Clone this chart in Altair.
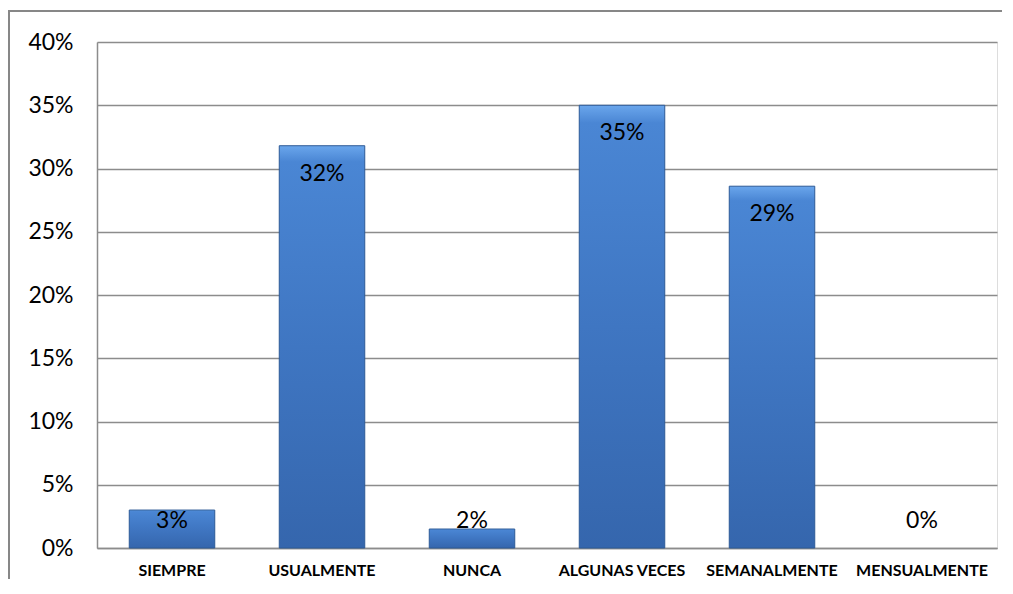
import altair as alt
import pandas as pd

categories = ["SIEMPRE", "USUALMENTE", "NUNCA", "ALGUNAS VECES", "SEMANALMENTE", "MENSUALMENTE"]
values = [0.030, 0.318, 0.015, 0.350, 0.286, 0.0]
labels = ["3%", "32%", "2%", "35%", "29%", "0%"]

df = pd.DataFrame({"cat": categories, "val": values, "lab": labels})

FONT = "Lato"

x = alt.X("cat:N", sort=categories, title=None,
          scale=alt.Scale(paddingInner=0.43, paddingOuter=0.215),
          axis=alt.Axis(labelAngle=0, labelFontWeight="bold", labelFontSize=16,
                        labelFont=FONT, labelColor="#000000", labelPadding=14,
                        ticks=False, domainColor="#8c8c8c", domainWidth=1.5))
y = alt.Y("val:Q", title=None,
          scale=alt.Scale(domain=[0, 0.4]),
          axis=alt.Axis(format=".0%", values=[0, 0.05, 0.1, 0.15, 0.2, 0.25, 0.3, 0.35, 0.4],
                        labelFontSize=23, labelFont=FONT, labelColor="#000000",
                        labelPadding=24, ticks=False, grid=True, gridColor="#8c8c8c",
                        gridWidth=1.3, domainColor="#8c8c8c", domainWidth=1.5))

gradient = alt.Gradient(
    gradient="linear", x1=0, y1=0, x2=0, y2=1,
    stops=[alt.GradientStop(color="#6aa6ec", offset=0),
           alt.GradientStop(color="#4a86d4", offset=0.04),
           alt.GradientStop(color="#3f76c2", offset=0.5),
           alt.GradientStop(color="#3566ad", offset=1)])

bars = alt.Chart(df).transform_filter("datum.val > 0").mark_bar(
    color=gradient, stroke="#2d5a96", strokeWidth=1).encode(x=x, y=y)

text = alt.Chart(df).transform_calculate(
    ly="max(datum.val - 0.022, 0.0213)"
).mark_text(fontSize=23, font=FONT, color="#000000", baseline="middle").encode(
    x=alt.X("cat:N", sort=categories),
    y=alt.Y("ly:Q"),
    text="lab:N")

frame_top = alt.Chart(df.head(1)).mark_rule(stroke="#878787", strokeWidth=2).encode(
    x=alt.value(-88), x2=alt.value(905), y=alt.value(-31))
frame_left = alt.Chart(df.head(1)).mark_rule(stroke="#878787", strokeWidth=2).encode(
    x=alt.value(-88), y=alt.value(-32), y2=alt.value(540))

chart = alt.layer(frame_top, frame_left, bars, text).properties(
    width=900, height=506,
    autosize=alt.AutoSizeParams(type="none"),
    padding={"left": 89, "top": 34, "right": 5, "bottom": 31},
).configure_view(stroke=None).configure(background="white")

chart.save("out.html", embed_options={"renderer": "svg", "actions": False})
